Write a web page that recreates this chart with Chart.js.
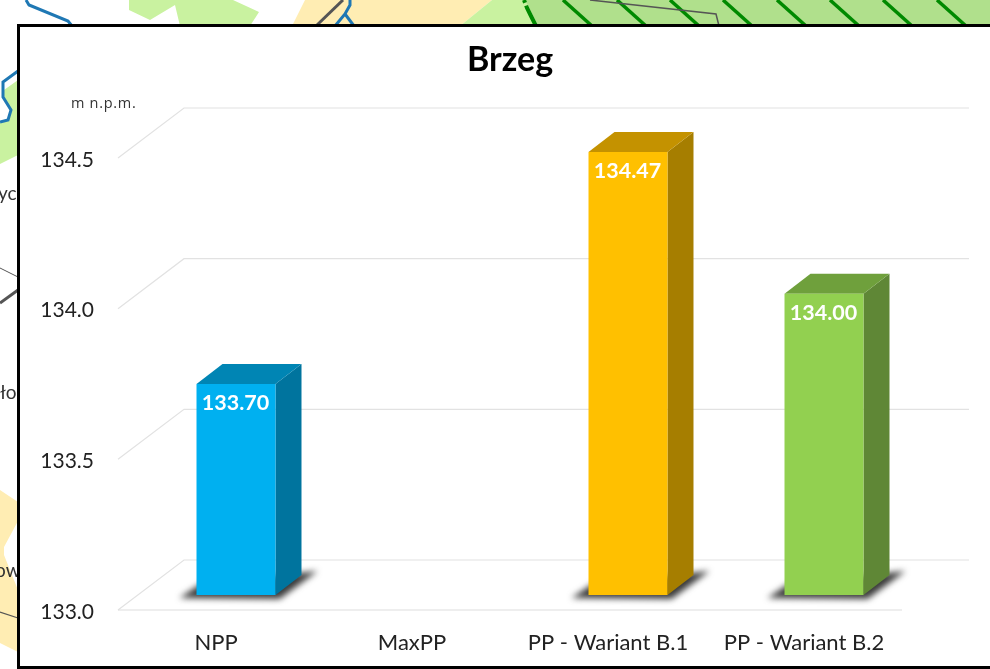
<!DOCTYPE html>
<html><head><meta charset="utf-8">
<style>
html,body{margin:0;padding:0;width:990px;height:669px;overflow:hidden;background:#fff}
#map{position:absolute;left:0;top:0}
#box{position:absolute;left:17px;top:24px;width:990px;height:645px;background:#fff;border:3.5px solid #000;box-sizing:border-box}
#wrap{position:absolute;left:0;top:0;width:990px;height:669px;filter:blur(.35px)}
</style>
<script src="https://cdn.jsdelivr.net/npm/chart.js@4"></script>
</head><body>
<svg id="map" width="990" height="669" style="filter:blur(.5px)">
  <polygon points="129,10 150,20 175,5 180,26 250,26 259,12 233,0 129,0" fill="#C9F2A0"/>
  <polygon points="292,26 305,0 492,0 460,26" fill="#FFEDB3"/>
  <polygon points="460,26 492,0 527,0 536,26" fill="#C9F2A0"/>
  <polygon points="525,0 990,0 990,26 538,26" fill="#B0E08C"/>
  <g stroke="#008A00" stroke-width="3.5" fill="none">
    <line x1="563" y1="0" x2="592" y2="26"/><line x1="617" y1="0" x2="646" y2="26"/>
    <line x1="670" y1="0" x2="699" y2="26"/><line x1="723" y1="0" x2="752" y2="26"/>
    <line x1="777" y1="0" x2="806" y2="26"/><line x1="830" y1="0" x2="859" y2="26"/>
    <line x1="883" y1="0" x2="912" y2="26"/><line x1="937" y1="0" x2="966" y2="26"/>
    <polyline points="524,0 527,8 530,14 536,26" stroke-width="4" stroke-dasharray="3 3 30"/>
  </g>
  <polyline points="590,0 716,14 719,26" fill="none" stroke="#555" stroke-width="1.5"/>
  <polyline points="343,0 316,26" fill="none" stroke="#555" stroke-width="3"/>
  <g fill="none" stroke="#1F78B4" stroke-width="3">
    <polyline points="26,0 29,5 68,21 72,26"/>
    <polyline points="350,0 350,5 345,14 335,26"/><polyline points="345,14 354,26"/>
  </g>
  <polygon points="18,80 4,90 4,97 12,110 8,121 0,123 0,164 18,155" fill="#C9F2A0"/>
  <polyline points="18,71 3,82 3,97 11,110 8,120 0,122" fill="none" stroke="#1F78B4" stroke-width="3"/>
  <polygon points="0,490 18,502 18,521 4,547 4,555 18,590 18,652 0,643" fill="#FFEDB3"/>
  <line x1="0" y1="268" x2="18" y2="277" stroke="#555" stroke-width="1"/>
  <line x1="0" y1="303" x2="18" y2="290" stroke="#555" stroke-width="3"/>
  <line x1="0" y1="612" x2="18" y2="618" stroke="#555" stroke-width="1.2"/>
  <g font-family="Lato" font-size="19" fill="#333">
    <text x="-2" y="200">yc</text><text x="0" y="399">ło</text><text x="-5" y="577">ow</text>
  </g>
</svg>
<div id="box"></div>
<div id="wrap"><canvas id="c" width="990" height="669"></canvas></div>
<script>
const categories = ['NPP','MaxPP','PP - Wariant B.1','PP - Wariant B.2'];
const levels = [133.70, null, 134.47, 134.00];
const frontColors = ['#00B0F0','#00B0F0','#FFC000','#92D050'];
const sideColors  = ['#00749E','#00749E','#A67E00','#5F8736'];
const topColors   = ['#0085B4','#0085B4','#C49200','#6FA03C'];
const tickValues = [133.0,133.5,134.0,134.5];
const axisMin = 133;
const axisMax = 134.5;
const unitLabel = 'm n.p.m.';
const titleText = 'Brzeg';

const FONT = 'Lato, Carlito, sans-serif';
const barShift = {x:20,y:-15};
const barDepth = {x:26,y:-20};
const wallDepth = {x:66,y:-50};

const depth3d = {
  id:'depth3d',
  beforeDatasetsDraw(chart){
    const {ctx,chartArea:a,scales:{y}} = chart;
    ctx.save();
    tickValues.forEach(v=>{
      const p = y.getPixelForValue(v);
      ctx.beginPath();
      ctx.moveTo(a.left,p);
      ctx.lineTo(a.left+wallDepth.x,p+wallDepth.y);
      ctx.lineTo(a.right+wallDepth.x+1,p+wallDepth.y);
      ctx.strokeStyle = '#E2E2E2'; ctx.lineWidth = 1.2; ctx.stroke();
    });
    ctx.beginPath();
    ctx.moveTo(a.left,a.bottom); ctx.lineTo(a.right,a.bottom);
    ctx.strokeStyle='#DEDEDE'; ctx.lineWidth=1.2; ctx.stroke();
    ctx.restore();

    const meta = chart.getDatasetMeta(0);
    ctx.save();
    ctx.translate(barShift.x,barShift.y);
    meta.data.forEach((el,i)=>{
      if(!Number.isFinite(levels[i])) return;
      const L = el.x-el.width/2, R = el.x+el.width/2, B = el.base;
      ctx.save();
      ctx.filter='blur(3px)';
      ctx.fillStyle='#3a3a3a';
      ctx.beginPath();
      ctx.moveTo(L-17,B+3); ctx.lineTo(L+4,B-11);
      ctx.lineTo(R+42,B-24); ctx.lineTo(R+4,B+4);
      ctx.closePath(); ctx.fill();
      ctx.restore();
      ctx.fillStyle=sideColors[i];
      ctx.beginPath();
      ctx.moveTo(R,el.y); ctx.lineTo(R+barDepth.x,el.y+barDepth.y);
      ctx.lineTo(R+barDepth.x,B+barDepth.y); ctx.lineTo(R,B);
      ctx.closePath(); ctx.fill();
      ctx.fillStyle=topColors[i];
      ctx.beginPath();
      ctx.moveTo(L,el.y); ctx.lineTo(L+barDepth.x,el.y+barDepth.y);
      ctx.lineTo(R+barDepth.x,el.y+barDepth.y); ctx.lineTo(R,el.y);
      ctx.closePath(); ctx.fill();
    });
  },
  afterDatasetsDraw(chart){
    const {ctx} = chart;
    const meta = chart.getDatasetMeta(0);
    ctx.textAlign='center'; ctx.textBaseline='middle';
    ctx.fillStyle='#fff'; ctx.font='bold 21.5px '+FONT;
    meta.data.forEach((el,i)=>{
      if(!Number.isFinite(levels[i])) return;
      ctx.fillText(levels[i].toFixed(2),el.x-.5,el.y+19);
    });
    ctx.restore();
    ctx.save();
    ctx.fillStyle='#333'; ctx.font='14.5px "Open Sans"'; ctx.letterSpacing='.7px';
    ctx.textAlign='left'; ctx.textBaseline='middle';
    ctx.fillText(unitLabel,71,103.5);
    ctx.restore();
  }
};

new Chart(document.getElementById('c'),{
  type:'bar',
  data:{labels:categories,datasets:[{data:levels,backgroundColor:frontColors,borderWidth:0,clip:false,
    base:axisMin,barPercentage:.403,categoryPercentage:1}]},
  plugins:[depth3d],
  options:{
    responsive:false,animation:false,
    layout:{padding:{left:0,right:88,top:0,bottom:0}},
    plugins:{
      legend:{display:false},tooltip:{enabled:false},
      title:{display:true,text:titleText,fullSize:false,color:'#000',
        font:{family:FONT,size:34,weight:'bold',lineHeight:1.2},
        padding:{top:40,bottom:77.2}}
    },
    scales:{
      x:{grid:{display:false},border:{display:false},
        afterFit(s){s.height=59;},
        ticks:{color:'#222',font:{family:FONT,size:22},padding:12,autoSkip:false,maxRotation:0}},
      y:{min:axisMin,max:axisMax,grid:{display:false},border:{display:false},
        afterFit(s){s.width=118;},
        afterBuildTicks(s){s.ticks=tickValues.map(v=>({value:v}));},
        ticks:{color:'#222',font:{family:FONT,size:21,lineHeight:'4px'},padding:16,callback:v=>['',v.toFixed(1)]}}
    }
  }
});
</script>
</body></html>
